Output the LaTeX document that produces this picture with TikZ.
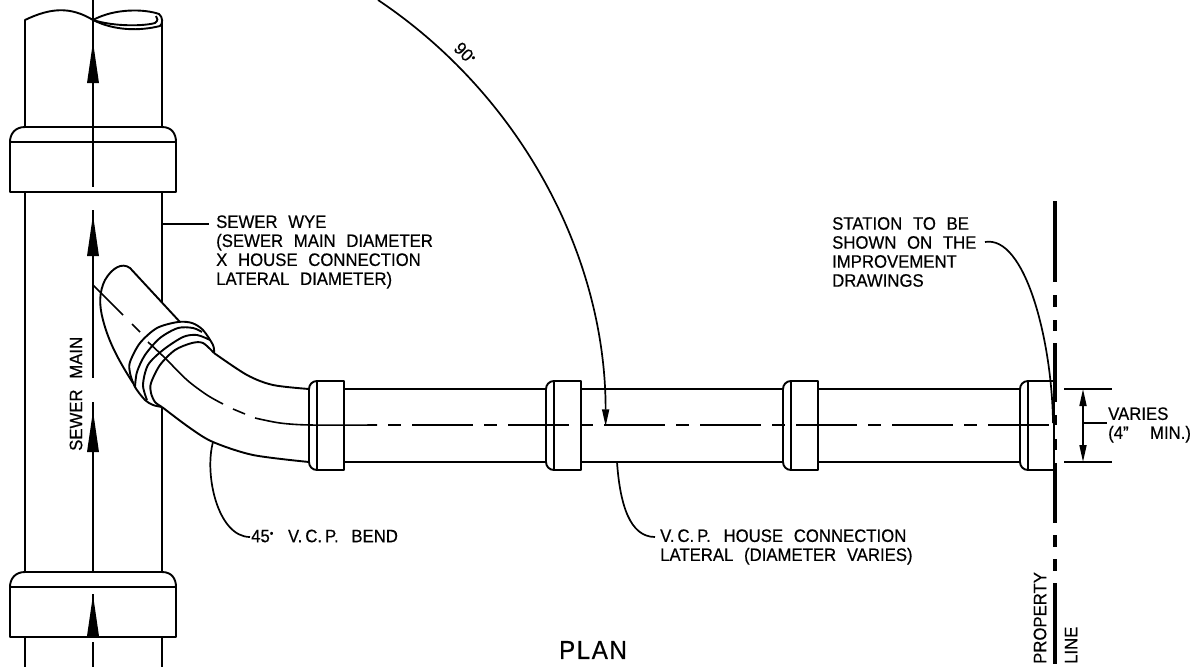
\documentclass[tikz,border=0pt]{standalone}
\usepackage{fontspec}
\setmainfont[FakeStretch=0.93,WordSpace=2.3,FakeBold=0.5]{Liberation Sans}
\usetikzlibrary{arrows.meta}
\newcommand{\degdot}{\raisebox{0.55ex}{\scalebox{0.6}{\textbullet}}}
\newcommand{\vcp}{V.\kern3pt C.\kern3pt P.\kern2pt}

\begin{document}
\begin{tikzpicture}[
        x=1pt, y=-1pt,
        pipeline/.style={line width=1.9pt, line join=round},
        centerline/.style={line width=1.6pt},
        leaderline/.style={line width=1.7pt},
        propline/.style={line width=3.6pt},
        notelabel/.style={inner sep=0pt, align=left, anchor=west, font=\fontsize{18}{19}\selectfont},
        leadertip/.style={-{Triangle[length=17pt,width=7pt]}},
        ]
        \useasboundingbox (0,0) rectangle (1202,667);

        %Main pipe
        \draw[pipeline] (25,127) -- (25,20) .. controls (50,8) and (70,6) .. (93,20);
        \draw[pipeline] (93,20) .. controls (115,8) and (145,9) .. (159,14) .. controls (163,17) and (163,24) .. (160,26) .. controls (140,31) and (115,31) .. (93,20);
        \draw[pipeline] (93,20) .. controls (115,27) and (145,26) .. (155,23) .. controls (158,21) and (158,18) .. (156,16);
        \draw[pipeline] (162,20) -- (162,127);
        \draw[pipeline] (25,193) -- (25,572);
        \draw[pipeline] (162,193) -- (162,302);
        \draw[pipeline] (162,407) -- (162,572);
        \draw[pipeline] (25,637) -- (25,667);
        \draw[pipeline] (162,637) -- (162,667);
        \foreach \by in {127,572}{
            \draw[pipeline] (25,\by) -- (162,\by) .. controls ({172},\by) and (176,{\by+7}) .. (176,{\by+15})
                -- (176,{\by+65}) -- (10,{\by+65}) -- (10,{\by+15}) .. controls (10,{\by+7}) and (15,\by) .. (25,\by);
            \draw[centerline] (10,{\by+15}) -- (176,{\by+15});
        }

        %Main center line
        \draw[centerline] (93,0) -- (93,187);
        \draw[centerline] (93,210) -- (93,378);
        \draw[centerline] (93,402) -- (93,572);
        \draw[centerline] (93,594) -- (93,637);
        \draw[centerline] (93,642) -- (93,667);
        \foreach \ty in {42,215,411,595}
            \fill (93,\ty) -- (99,{\ty+41}) -- (87,{\ty+41}) -- cycle;

        %Bend
        \draw[pipeline] (180,322) -- (130,268) .. controls (122,262) and (112,268) .. (105,280) .. controls (99,292) and (99,305) .. (103,320) .. controls (107,335) and (113,352) .. (133,383);
        \draw[pipeline] plot[smooth] coordinates {(214,353) (213,345) (203,330) (192,323) (178,322) (157,328) (140,343) (130,362) (130,373) (135,387) (145,400) (153,405) (162,407)};
        \draw[pipeline] plot[smooth] coordinates {(135,387) (137,372) (145,355) (160,338) (178,328) (193,328) (202,332)};
        \draw[pipeline] plot[smooth] coordinates {(147,400) (143,385) (148,365) (163,350) (183,337) (197,335) (210,340)};
        \draw[pipeline] plot[smooth] coordinates {(162,407) (155,402) (151,393) (151,383) (160,365) (175,350) (192,343) (203,343) (214,353)};
        \draw[pipeline] plot[smooth] coordinates {(214,353) (247,375) (273,385) (309,389)};
        \draw[pipeline] plot[smooth] coordinates {(162,407) (190,428) (213,442) (253,455) (309,462)};
        \draw[centerline] (93,285) -- (123,315);
        \draw[centerline] (132,324) -- (140,332);
        \draw[centerline] plot[smooth] coordinates {(148,342) (165,358) (187,380) (207,395) (223,404)};
        \draw[centerline] (233,409) -- (245,414);
        \draw[centerline] plot[smooth] coordinates {(255,418) (280,423) (310,425) (377,425)};

        %Lateral
        \foreach \bx in {309,546,783,1020}{
            \draw[pipeline] ({\bx+8},381) .. controls ({\bx+3},381) and (\bx,385) .. (\bx,389) -- (\bx,462)
                .. controls (\bx,466) and ({\bx+3},470) .. ({\bx+8},470);
            \draw[centerline] ({\bx+8},381) -- ({\bx+8},470);
        }
        \foreach \bx in {309,546,783}
            \draw[pipeline] ({\bx+8},381) -- ({\bx+35},381) -- ({\bx+35},470) -- ({\bx+8},470);
        \draw[pipeline] (1028,381) -- (1054,381) -- (1054,470) -- (1028,470);
        \foreach \xa/\xb in {344/546,581/783,818/1020}{
            \draw[pipeline] (\xa,389) -- (\xb,389);
            \draw[pipeline] (\xa,462) -- (\xb,462);
        }
        \draw[centerline, dash pattern=on 13pt off 11pt on 61pt off 11pt] (388,425) -- (1055,425);

        %Property line
        \foreach \ya/\yb in {201/282,295/307,320/331,343/402,415/425,439/450,463/523,535/547,559/571,583/664}
            \draw[propline] (1055,\ya) -- (1055,\yb);

        %Nodes
        \node[notelabel] (wyelabel) at (216,252) {SEWER WYE\\(SEWER MAIN DIAMETER\\X HOUSE CONNECTION\\LATERAL DIAMETER)};
        \node[notelabel] (stationlabel) at (832,252) {STATION TO BE\\SHOWN ON THE\\IMPROVEMENT\\DRAWINGS};
        \node[notelabel] (bendlabel) at (251,536) {45\degdot\ \kern4pt\vcp\ BEND};
        \node[notelabel] (laterallabel) at (660,547) {\vcp\ HOUSE CONNECTION\\LATERAL (DIAMETER VARIES)};
        \node[notelabel] (varieslabel) at (1108,425) {VARIES\\(4"\ \ MIN.)};
        \node[notelabel, rotate=90, anchor=west] (mainlabel) at (76,451) {SEWER MAIN};
        \node[notelabel, rotate=90, anchor=west] (propertylabel) at (1040,664) {PROPERTY};
        \node[notelabel, rotate=90, anchor=west] (linelabel) at (1071,664) {LINE};
        \node[notelabel, anchor=center, font=\fontsize{26}{29}\addfontfeature{LetterSpace=6}] (planlabel) at (593,650) {PLAN};
        \node[notelabel, rotate=-45, anchor=center] (anglelabel) at (465,53) {90\degdot};
        \coordinate (wyeedge) at (162,224);
        \coordinate (wyeend) at (209,224);
        \coordinate (bendedge) at (213,442);
        \coordinate (bendend) at (250,537);
        \coordinate (lateraledge) at (617,462);
        \coordinate (lateralend) at (655,537);
        \coordinate (stationend) at (985,242);
        \coordinate (stationedge) at (1053,423);
        \coordinate (arcstart) at (378,0);
        \coordinate (dimtop) at (1083,389);
        \coordinate (dimbottom) at (1083,462);
        \coordinate (dimmid) at (1083,423);
        \coordinate (dimend) at (1107,423);

        %Lines
        \draw[leaderline] (wyeedge) -- (wyeend);
        \draw[leaderline] (bendedge) .. controls (204,475) and (218,537) .. (bendend);
        \draw[leaderline] (lateraledge) .. controls (620,505) and (630,537) .. (lateralend);
        \draw[leaderline] (stationend) .. controls (1025,235) and (1052,340) .. (stationedge);
        \draw[leaderline, leadertip] (arcstart) arc[start angle=-56.2, end angle=0, radius=513];
        \draw[leaderline, leadertip] (dimmid) -- (dimtop);
        \draw[leaderline, leadertip] (dimmid) -- (dimbottom);
        \draw[leaderline] (dimmid) -- (dimend);
        \draw[pipeline] (1064,389) -- (1112,389);
        \draw[pipeline] (1064,462) -- (1112,462);
\end{tikzpicture}
\end{document}
